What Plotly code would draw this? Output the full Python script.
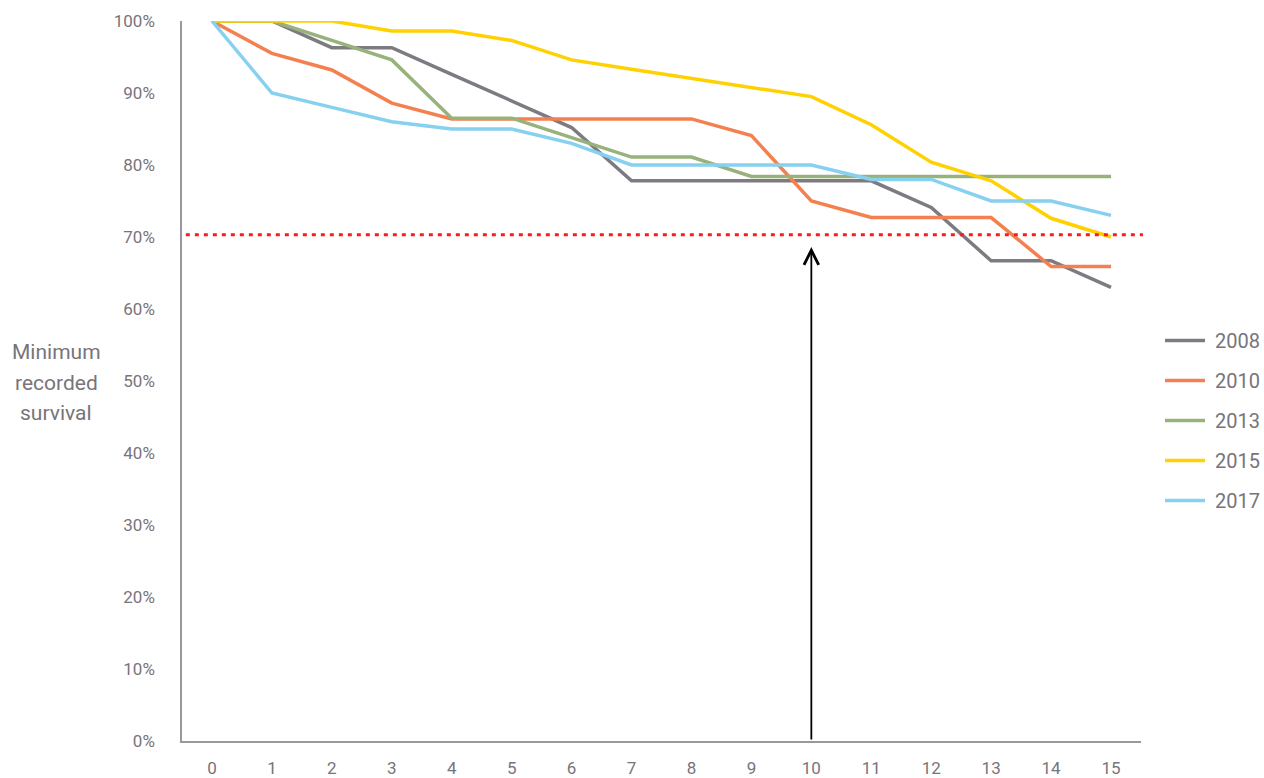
import plotly.graph_objects as go

years_x = list(range(16))
tick_labels = [str(i) for i in years_x]
y_ticks = [0, 10, 20, 30, 40, 50, 60, 70, 80, 90, 100]
y_tick_labels = [f"{v}%" for v in y_ticks]

s2008 = [100, 100, 96.3, 96.3, 92.6, 88.9, 85.2, 77.8, 77.8, 77.8, 77.8, 77.8, 74.1, 66.7, 66.7, 63.0]
s2010 = [100, 95.5, 93.2, 88.6, 86.4, 86.4, 86.4, 86.4, 86.4, 84.1, 75.0, 72.7, 72.7, 72.7, 65.9, 65.9]
s2013 = [100, 100, 97.3, 94.6, 86.5, 86.5, 83.8, 81.1, 81.1, 78.4, 78.4, 78.4, 78.4, 78.4, 78.4, 78.4]
s2015 = [100, 100, 100, 98.6, 98.6, 97.3, 94.6, 93.3, 92.0, 90.7, 89.5, 85.6, 80.4, 77.8, 72.6, 70.0]
s2017 = [100, 90, 88, 86, 85, 85, 83, 80, 80, 80, 80, 78, 78, 75, 75, 73]

series_names = ["2008", "2010", "2013", "2015", "2017"]
series_vals = [s2008, s2010, s2013, s2015, s2017]
colors = ["#7E7A82", "#F4804F", "#97B27A", "#FFD100", "#86D0F0"]

y_title_lines = ["Minimum", "recorded", "survival"]

threshold = 70.3
arrow_x = 10
arrow_top = 68.6

text_color = "#77747B"
font_family = "Roboto, 'Open Sans', sans-serif"

L, R, T, B = 182, 1141, 21, 741

fig = go.Figure()
for name, vals, col in zip(series_names, series_vals, colors):
    fig.add_trace(go.Scatter(
        x=years_x, y=vals, mode="lines", name=" " + name,
        line=dict(color=col, width=3.5),
        legendgroup=name, cliponaxis=False,
    ))

fig.add_shape(type="line", xref="paper", x0=0.004, x1=1.002, yref="y", y0=threshold, y1=threshold,
              line=dict(color="#FF1A1A", width=3, dash="4px,5px"))

fig.add_annotation(x=arrow_x, y=arrow_top, ax=arrow_x, ay=0, xref="x", yref="y",
                   axref="x", ayref="y", showarrow=True, arrowhead=5, arrowsize=1.6,
                   arrowwidth=1.8, arrowcolor="#000000", text="")

for i, line in enumerate(y_title_lines):
    ypix = 352 + 30.5 * i
    fig.add_annotation(x=(56 - L) / (R - L), y=(B - ypix) / (B - T), xref="paper", yref="paper",
                       xanchor="center", yanchor="middle", text=line,
                       showarrow=False, font=dict(size=21, color=text_color, family=font_family))

fig.update_layout(
    width=1264, height=778,
    margin=dict(l=L, r=1264 - R, t=T, b=778 - B, autoexpand=False),
    plot_bgcolor="white", paper_bgcolor="white",
    font=dict(family=font_family, size=16, color=text_color),
    showlegend=True,
    legend=dict(x=1.024 - 4 / (R - L), y=(B - 321) / (B - T), xanchor="left", yanchor="top",
                tracegroupgap=11, font=dict(size=20, color=text_color), itemwidth=40),
    xaxis=dict(range=[-0.5, 15.5], tickmode="array", tickvals=years_x, ticktext=tick_labels,
               showgrid=False, zeroline=False, showline=True, linecolor="#9A989C", linewidth=1.5,
               ticks="", ticklabelstandoff=11, automargin=False,
               tickfont=dict(size=17, color=text_color)),
    yaxis=dict(range=[0, 100], tickmode="array", tickvals=y_ticks, ticktext=y_tick_labels,
               showgrid=False, zeroline=False, showline=True,
               linecolor="#9A989C", linewidth=1.5, ticks="", ticklabelstandoff=22,
               automargin=False, tickfont=dict(size=17, color=text_color)),
)

fig.write_html("out.html", config={"displayModeBar": False},
               post_script="document.body.style.margin='0';document.body.style.overflow='hidden';")
